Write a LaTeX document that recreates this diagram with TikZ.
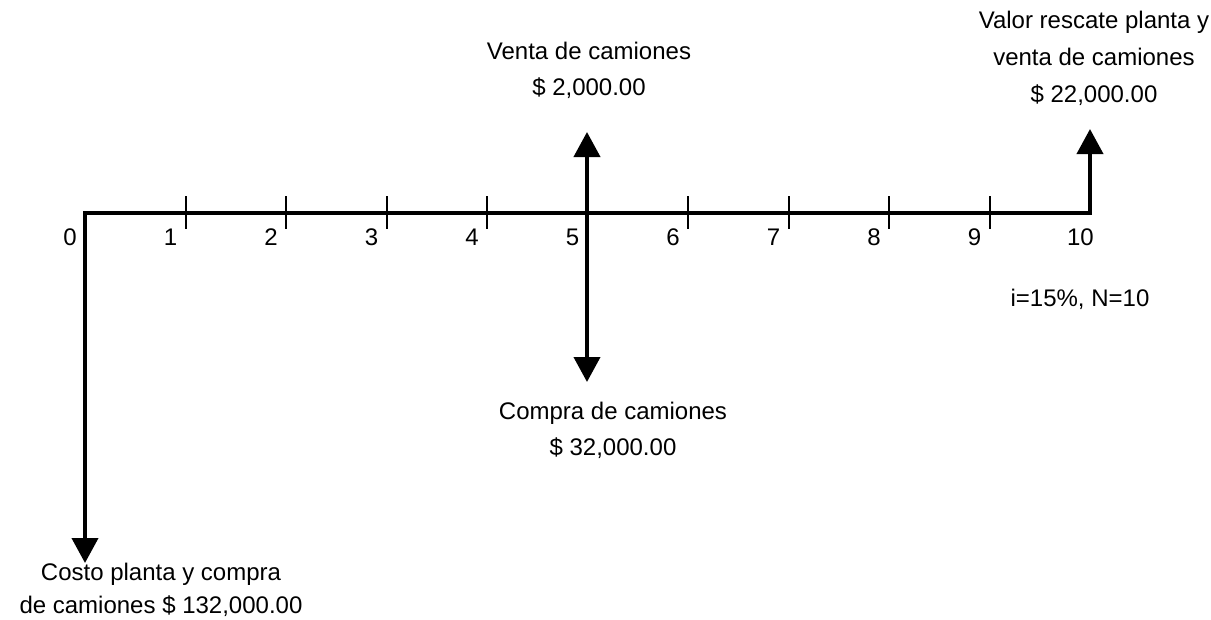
\documentclass[tikz,border=0pt]{standalone}
\usepackage{fontspec}
\setmainfont{Liberation Sans}
\usetikzlibrary{arrows.meta}

\begin{document}
\begin{tikzpicture}[x=1pt,y=1pt,>={Triangle[length=25pt,width=26pt]},line join=miter,
  num/.style={anchor=east,inner sep=0pt,font=\fontsize{24}{28}\selectfont},
  txt/.style={align=center,inner sep=0pt,font=\fontsize{24}{36}\selectfont}]
\useasboundingbox (-85,213) rectangle (1126,-406);
\foreach \i in {0,...,10}
  \coordinate (t\i) at (100.5*\i,0);
\coordinate (down0) at (0,-350);
\coordinate (up5) at (502,81);
\coordinate (down5) at (502,-169);
\coordinate (up10) at (1005,84);
% eje de tiempo
\draw[<->,line width=4pt] (down0) -- (t0) -- (t10) -- (up10);
\draw[<->,line width=4pt] (down5) -- (up5);
\foreach \i in {1,...,9}
  \draw[line width=2pt] (t\i) ++(0,17) -- ++(0,-33);
\foreach \i in {0,...,9}
  \path (t\i) ++(-8,-24) node[num] (n\i) {\i};
\path (t10) ++(4,-24) node[num] (n10) {10};
% flujos
\node[txt] (venta) at (504,143) {Venta de camiones\\\$ 2,000.00};
\node[txt,font=\fontsize{24}{37}\selectfont] (rescate) at (1009,155) {Valor rescate planta y\\venta de camiones\\\$ 22,000.00};
\node[txt] (compra) at (528,-217) {Compra de camiones\\\$ 32,000.00};
\node[txt,font=\fontsize{24}{33}\selectfont] (costo) at (76,-377) {Costo planta y compra\\de camiones \$ 132,000.00};
\node[txt] (tasa) at (995,-86) {i=15\%, N=10};
\end{tikzpicture}
\end{document}
